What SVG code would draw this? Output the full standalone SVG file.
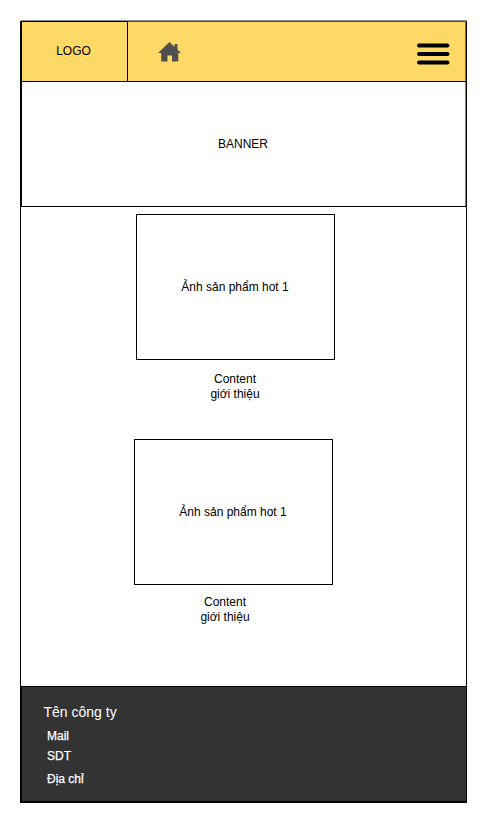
<svg xmlns="http://www.w3.org/2000/svg" width="487" height="823" viewBox="0 0 487 823">
<style>
.box{fill:#fff;stroke:#000;stroke-width:1}
.hdr{fill:#FFD966;stroke:#000;stroke-width:1}
text{font-family:"Liberation Sans",Arial,sans-serif;font-size:12px;fill:#000}
.c{text-anchor:middle}
.f{fill:#fff}
.s{stroke:#fff;stroke-width:.25}
.b{stroke:#000;stroke-width:4;stroke-linecap:round;fill:none}
</style>
<rect width="487" height="823" fill="#fff"/>
<g id="frame"><rect x="20.500" y="21.500" width="446" height="781" fill="#fff" stroke="#000"/></g>
<g id="header">
<rect class="hdr" x="21.500" y="21.500" width="444.500" height="60"/>
<path d="M20.500 21h446" stroke="#666" stroke-width="1.500" fill="none"/>
</g>
<g id="logo"><rect class="hdr" x="21.500" y="21.500" width="106" height="60"/><text class="c" x="73.500" y="55">LOGO</text></g>
<g id="home"><path fill="#505050" d="M169.500 42L158 53h3.200v8.500h6.300v-6h4.500v6h6.300V53H181l-3.500-3.400V44h-3v2.700z"/></g>
<g id="menu"><path class="b" d="M419 45.500h28.500M419 54h28.500M419 62.500h28.500"/></g>
<g id="banner"><rect class="box" x="21.500" y="81.500" width="444.500" height="125"/><text class="c" x="243" y="148">BANNER</text></g>
<g id="product1"><rect class="box" x="136.500" y="214.500" width="198" height="145"/><text class="c" x="235" y="291">Ảnh sản phẩm hot 1</text></g>
<g id="content1"><text class="c" x="235" y="383">Content</text><text class="c" x="235" y="398">giới thiệu</text></g>
<g id="product2"><rect class="box" x="134.500" y="439.500" width="198" height="145"/><text class="c" x="233" y="516">Ảnh sản phẩm hot 1</text></g>
<g id="content2"><text class="c" x="225" y="606">Content</text><text class="c" x="225" y="621">giới thiệu</text></g>
<g id="footer">
<rect x="20.500" y="686.500" width="446" height="115.500" fill="#333" stroke="#000"/>
<path d="M21 686.500V802H466.500" fill="none" stroke="#000" stroke-width="2"/>
<text class="f" x="43.500" y="717" style="font-size:14px">Tên công ty</text>
<text class="f s" x="47" y="740">Mail</text>
<text class="f s" x="47" y="760">SDT</text>
<text class="f s" x="47" y="783">Địa chỉ</text>
</g>
<g id="connectors"/>
</svg>
